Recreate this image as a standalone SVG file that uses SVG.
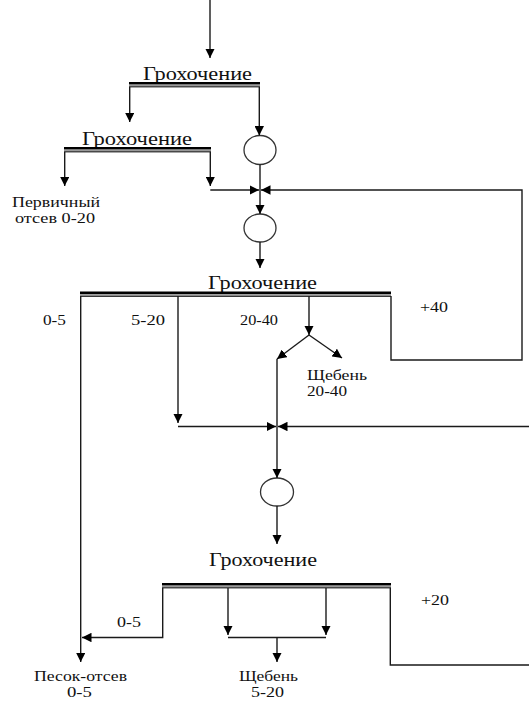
<svg xmlns="http://www.w3.org/2000/svg" width="529" height="704" viewBox="0 0 529 704" font-family="Liberation Serif, Times New Roman, serif">
<style>
text{fill:#111;font-family:"Liberation Serif",serif;}
.big{font-size:19px;}
.sm{font-size:14px;}
.ln{stroke:#1a1a1a;stroke-width:1.4;fill:none;}
.ell{stroke:#333;stroke-width:1.3;fill:#fff;}
</style>
<defs>
<marker id="ah" viewBox="0 0 10 10" refX="10" refY="5" markerWidth="9.5" markerHeight="9.5" markerUnits="userSpaceOnUse" orient="auto">
<path d="M0,0 L10,5 L0,10 z" fill="#000"/>
</marker>
</defs>
<rect width="529" height="704" fill="#fff"/>

<g id="screen1">
<text class="big" x="143" y="80" textLength="109" lengthAdjust="spacingAndGlyphs">Грохочение</text>
<rect x="129" y="82" width="131" height="2.6" fill="#000"/>
<rect x="129" y="84.6" width="131" height="1.6" fill="#999"/>
<rect x="129" y="86.2" width="131" height="1.2" fill="#222"/>
</g>
<g id="screen2">
<text class="big" x="82" y="145" textLength="110" lengthAdjust="spacingAndGlyphs">Грохочение</text>
<rect x="64" y="147" width="147" height="2.6" fill="#000"/>
<rect x="64" y="149.6" width="147" height="1.6" fill="#999"/>
<rect x="64" y="151.2" width="147" height="1.2" fill="#222"/>
</g>
<g id="screen3">
<text class="big" x="208" y="289" textLength="109" lengthAdjust="spacingAndGlyphs">Грохочение</text>
<rect x="80" y="291.5" width="311" height="2.6" fill="#000"/>
<rect x="80" y="294.1" width="311" height="1.6" fill="#999"/>
<rect x="80" y="295.7" width="311" height="1.2" fill="#222"/>
</g>
<g id="screen4">
<text class="big" x="209" y="566" textLength="108" lengthAdjust="spacingAndGlyphs">Грохочение</text>
<rect x="162" y="583" width="229" height="2.6" fill="#000"/>
<rect x="162" y="585.6" width="229" height="1.6" fill="#999"/>
<rect x="162" y="587.2" width="229" height="1.2" fill="#222"/>
</g>

<g id="crusher1"><ellipse class="ell" cx="260" cy="150" rx="16" ry="14.5"/></g>
<g id="crusher2"><ellipse class="ell" cx="260" cy="228" rx="16" ry="14"/></g>
<g id="crusher3"><ellipse class="ell" cx="277" cy="492" rx="16.5" ry="14"/></g>

<g id="labels">
<text class="sm" x="12" y="207" textLength="88" lengthAdjust="spacingAndGlyphs">Первичный</text>
<text class="sm" x="15" y="223" textLength="80" lengthAdjust="spacingAndGlyphs">отсев 0-20</text>
<text class="sm" x="43" y="325" textLength="23" lengthAdjust="spacingAndGlyphs">0-5</text>
<text class="sm" x="131" y="325" textLength="34" lengthAdjust="spacingAndGlyphs">5-20</text>
<text class="sm" x="240" y="325" textLength="38" lengthAdjust="spacingAndGlyphs">20-40</text>
<text class="sm" x="420" y="312" textLength="28" lengthAdjust="spacingAndGlyphs">+40</text>
<text class="sm" x="307" y="380" textLength="60" lengthAdjust="spacingAndGlyphs">Щебень</text>
<text class="sm" x="307" y="396" textLength="40" lengthAdjust="spacingAndGlyphs">20-40</text>
<text class="sm" x="117" y="627" textLength="24" lengthAdjust="spacingAndGlyphs">0-5</text>
<text class="sm" x="421" y="605" textLength="28" lengthAdjust="spacingAndGlyphs">+20</text>
<text class="sm" x="34" y="681" textLength="93" lengthAdjust="spacingAndGlyphs">Песок-отсев</text>
<text class="sm" x="67" y="697" textLength="25" lengthAdjust="spacingAndGlyphs">0-5</text>
<text class="sm" x="239" y="681" textLength="59" lengthAdjust="spacingAndGlyphs">Щебень</text>
<text class="sm" x="251" y="697" textLength="33" lengthAdjust="spacingAndGlyphs">5-20</text>
</g>

<g id="connectors">
<line class="ln" x1="210" y1="0" x2="210" y2="58" marker-end="url(#ah)"/>
<line class="ln" x1="129.7" y1="87" x2="129.7" y2="122" marker-end="url(#ah)"/>
<line class="ln" x1="259.3" y1="87" x2="259.3" y2="135.5" marker-end="url(#ah)"/>
<line class="ln" x1="64.7" y1="152" x2="64.7" y2="186" marker-end="url(#ah)"/>
<line class="ln" x1="210.3" y1="152" x2="210.3" y2="186" marker-end="url(#ah)"/>
<polyline class="ln" points="210.3,190 259,190" marker-end="url(#ah)"/>
<polyline class="ln" points="391,296 391,360 522,360 522,190 261,190" marker-end="url(#ah)"/>
<line class="ln" x1="260" y1="164.5" x2="260" y2="214" marker-end="url(#ah)"/>
<line class="ln" x1="260" y1="242" x2="260" y2="268" marker-end="url(#ah)"/>
<line class="ln" x1="80.7" y1="296" x2="80.7" y2="662" marker-end="url(#ah)"/>
<line class="ln" x1="178" y1="296" x2="178" y2="423" marker-end="url(#ah)"/>
<line class="ln" x1="309" y1="296" x2="309" y2="335" marker-end="url(#ah)"/>
<line class="ln" x1="309" y1="335" x2="277" y2="359" marker-end="url(#ah)"/>
<line class="ln" x1="309" y1="335" x2="342" y2="358" marker-end="url(#ah)"/>
<line class="ln" x1="277" y1="359" x2="277" y2="478" marker-end="url(#ah)"/>
<line class="ln" x1="178" y1="426.5" x2="276" y2="426.5" marker-end="url(#ah)"/>
<line class="ln" x1="529" y1="426.5" x2="278" y2="426.5" marker-end="url(#ah)"/>
<line class="ln" x1="277" y1="506" x2="277" y2="544" marker-end="url(#ah)"/>
<polyline class="ln" points="162.7,588 162.7,637.5 82,637.5" marker-end="url(#ah)"/>
<line class="ln" x1="228" y1="588" x2="228" y2="635" marker-end="url(#ah)"/>
<line class="ln" x1="326" y1="588" x2="326" y2="635" marker-end="url(#ah)"/>
<line class="ln" x1="228" y1="637.5" x2="326" y2="637.5"/>
<line class="ln" x1="277" y1="637.5" x2="277" y2="662" marker-end="url(#ah)"/>
<polyline class="ln" points="390.3,588 390.3,665 529,665"/>
</g>
</svg>
